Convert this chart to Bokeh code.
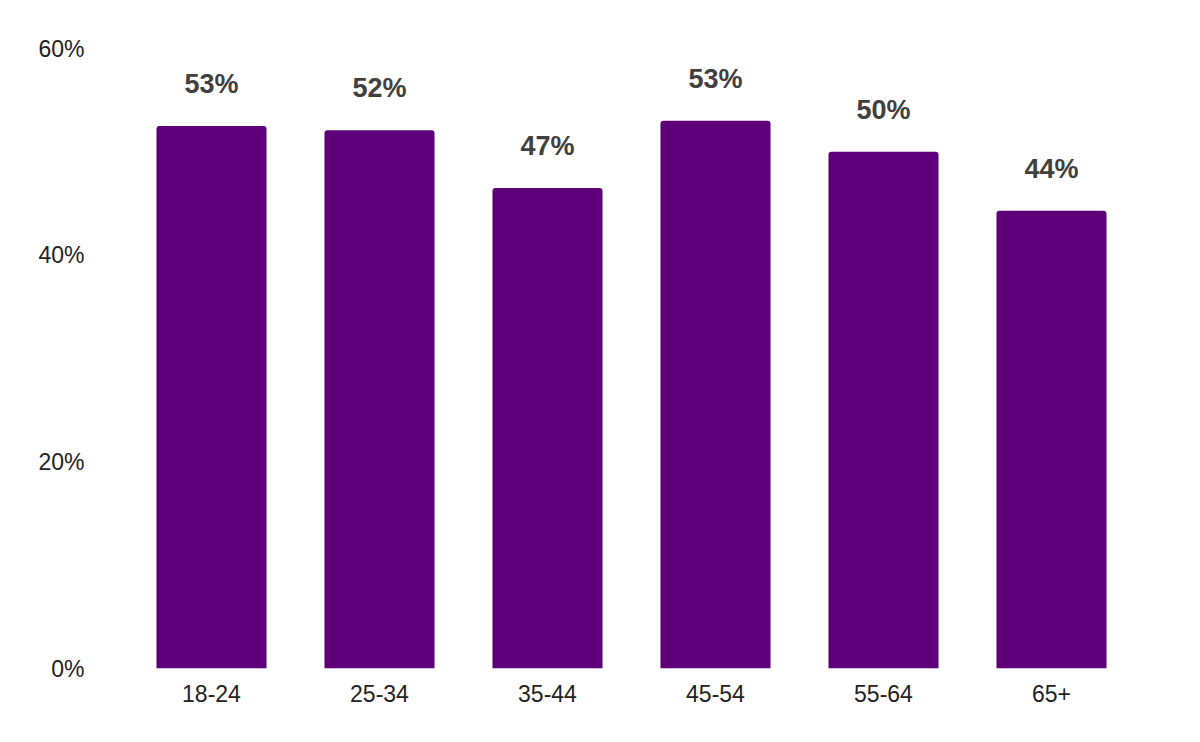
from bokeh.plotting import figure
from bokeh.models import ColumnDataSource, FixedTicker, Range1d
from bokeh.core.properties import value
from bokeh.embed import file_html
from bokeh.resources import INLINE

categories = ["18-24", "25-34", "35-44", "45-54", "55-64", "65+"]
values = [52.5, 52.1, 46.5, 53.0, 50.0, 44.3]
labels = ["53%", "52%", "47%", "53%", "50%", "44%"]
y_ticks = [0, 20, 40, 60]
y_tick_labels = {0: "0%", 20: "20%", 40: "40%", 60: "60%"}

src = ColumnDataSource(data=dict(cat=categories, val=values, lab=labels))

p = figure(x_range=categories, y_range=Range1d(0, 60), width=1200, height=742,
           output_backend="svg", toolbar_location=None,
           min_border_left=127, min_border_right=65, min_border_top=48, min_border_bottom=74)
p.outline_line_color = None
p.xgrid.grid_line_color = None
p.ygrid.grid_line_color = None
p.background_fill_color = "white"

p.vbar(x="cat", top="val", bottom=0, width=0.655, source=src,
       fill_color="#5E0079", line_color=None, border_radius=(3, 3, 0, 0))

p.text(x="cat", y="val", text="lab", source=src, y_offset=-42,
       text_align="center", text_baseline="alphabetic",
       text_font=value("Liberation Sans"), text_font_size="27px",
       text_font_style="bold", text_color="#404040")

p.yaxis.ticker = FixedTicker(ticks=y_ticks)
p.yaxis.major_label_overrides = y_tick_labels
p.yaxis.axis_line_color = None
p.yaxis.major_tick_line_color = None
p.yaxis.minor_tick_line_color = None
p.yaxis.major_label_standoff = 37
p.yaxis.major_label_text_font = "Liberation Sans"
p.yaxis.major_label_text_font_size = "23px"
p.yaxis.major_label_text_color = "#222222"

p.xaxis.axis_line_color = None
p.xaxis.major_tick_line_color = None
p.xaxis.minor_tick_line_color = None
p.xaxis.major_label_standoff = 10
p.xaxis.major_label_text_font = "Liberation Sans"
p.xaxis.major_label_text_font_size = "23px"
p.xaxis.major_label_text_color = "#222222"

open("out.html", "w").write(file_html(p, INLINE))
